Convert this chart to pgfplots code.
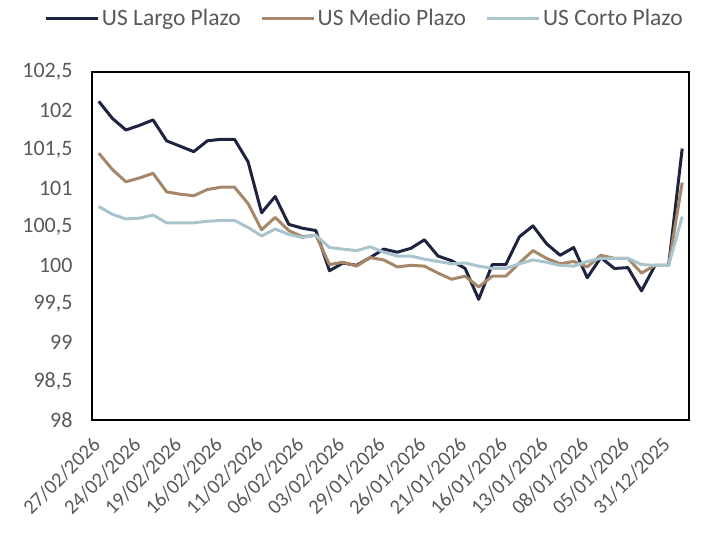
\documentclass[border=0pt]{standalone}
\usepackage{fontspec}
\setmainfont{Carlito}
\usepackage{pgfplots}
\pgfplotsset{compat=1.18}
\definecolor{largo}{RGB}{30,36,64}
\definecolor{medio}{RGB}{166,135,104}
\definecolor{corto}{RGB}{170,196,206}
\definecolor{tickgray}{RGB}{89,89,89}
\newcommand{\tickfont}{\fontsize{22bp}{26bp}\selectfont}
\newcommand{\xtickfont}{\fontsize{20.5bp}{24bp}\selectfont}
\newcommand{\legfont}{\fontsize{23.5bp}{27bp}\selectfont}
\begin{document}
\begin{tikzpicture}
\useasboundingbox (-92bp,-113bp) rectangle (610bp,420bp);
\begin{axis}[
  at={(0,0)}, anchor=south west,
  scale only axis, width=597bp, height=348bp,
  xmin=-0.5, xmax=43.5, ymin=98, ymax=102.5,
  xtick={0,3,...,42},
  xticklabels={27/02/2026,24/02/2026,19/02/2026,16/02/2026,11/02/2026,06/02/2026,03/02/2026,29/01/2026,26/01/2026,21/01/2026,16/01/2026,13/01/2026,08/01/2026,05/01/2026,31/12/2025},
  ytick={98,98.5,99,99.5,100,100.5,101,101.5,102,102.5},
  major tick length=0pt,
  axis line style={line width=1.5bp, black},
  tick label style={font=\tickfont, text=tickgray},
  xticklabel style={font=\xtickfont, inner sep=0pt, xshift=-2bp, yshift=-21bp, rotate=45, anchor=east},
  yticklabel style={xshift=-16bp, /pgf/number format/.cd, use comma, fixed, precision=1, assume math mode=true},
  legend style={at={(0.457,1.155)}, anchor=center, draw=none, fill=none, font=\legfont, text=tickgray,
    /tikz/every even column/.append style={column sep=17bp}, nodes={inner sep=2.5bp}},
  legend columns=3,
  legend image code/.code={\draw[#1] (0bp,0bp) -- (52bp,0bp);},
  clip=false,
]
\addplot[largo, line width=3bp, line join=round] coordinates {
(0,102.12)(1,101.90)(2,101.75)(3,101.81)(4,101.88)(5,101.61)(6,101.54)(7,101.47)(8,101.61)(9,101.63)
(10,101.63)(11,101.34)(12,100.68)(13,100.89)(14,100.53)(15,100.48)(16,100.45)(17,99.93)(18,100.03)(19,100.00)
(20,100.10)(21,100.21)(22,100.17)(23,100.22)(24,100.33)(25,100.12)(26,100.06)(27,99.96)(28,99.56)(29,100.01)
(30,100.01)(31,100.37)(32,100.51)(33,100.28)(34,100.13)(35,100.23)(36,99.84)(37,100.10)(38,99.96)(39,99.97)
(40,99.67)(41,100.00)(42,100.00)(43,101.51)};
\addlegendentry{US Largo Plazo}
\addplot[medio, line width=3bp, line join=round] coordinates {
(0,101.45)(1,101.24)(2,101.08)(3,101.13)(4,101.19)(5,100.95)(6,100.92)(7,100.90)(8,100.98)(9,101.01)
(10,101.01)(11,100.80)(12,100.46)(13,100.62)(14,100.45)(15,100.37)(16,100.39)(17,100.01)(18,100.04)(19,99.99)
(20,100.10)(21,100.07)(22,99.98)(23,100.00)(24,99.99)(25,99.90)(26,99.82)(27,99.86)(28,99.72)(29,99.86)
(30,99.86)(31,100.03)(32,100.19)(33,100.09)(34,100.02)(35,100.05)(36,99.98)(37,100.13)(38,100.09)(39,100.09)
(40,99.90)(41,100.00)(42,100.00)(43,101.07)};
\addlegendentry{US Medio Plazo}
\addplot[corto, line width=3bp, line join=round] coordinates {
(0,100.76)(1,100.66)(2,100.60)(3,100.61)(4,100.65)(5,100.55)(6,100.55)(7,100.55)(8,100.57)(9,100.58)
(10,100.58)(11,100.49)(12,100.38)(13,100.47)(14,100.40)(15,100.36)(16,100.39)(17,100.23)(18,100.21)(19,100.19)
(20,100.24)(21,100.17)(22,100.12)(23,100.12)(24,100.08)(25,100.05)(26,100.02)(27,100.03)(28,99.99)(29,99.96)
(30,99.96)(31,100.02)(32,100.07)(33,100.04)(34,100.00)(35,99.99)(36,100.05)(37,100.09)(38,100.09)(39,100.09)
(40,100.01)(41,100.00)(42,100.00)(43,100.63)};
\addlegendentry{US Corto Plazo}
\end{axis}
\end{tikzpicture}
\end{document}
